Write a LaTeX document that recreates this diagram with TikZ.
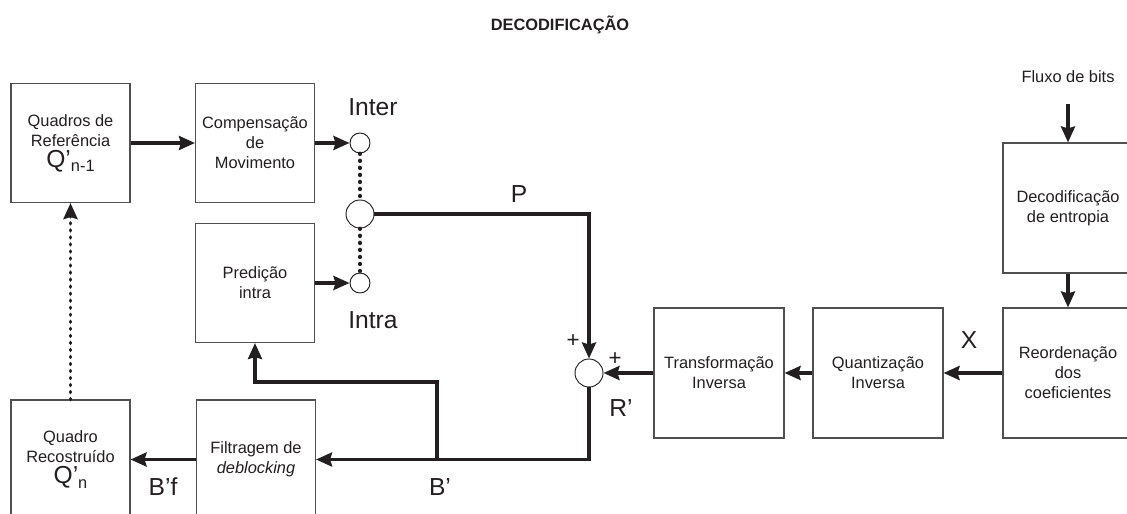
\documentclass[tikz,border=0pt]{standalone}
\usepackage{fontspec}
\setmainfont{Liberation Sans}
\usepackage{tikz}
\usetikzlibrary{arrows.meta, positioning, calc}
\definecolor{decink}{RGB}{35,31,32}
\definecolor{decframe}{RGB}{80,80,80}
\newcommand\boxfont{\fontsize{14}{17}\selectfont}
\newcommand\lblfont{\fontsize{21}{25}\selectfont}
\newcommand\titlefont{\fontsize{14}{17}\selectfont\bfseries}
\tikzset{
  %% ---- boxes ----
  block/.style  = {rectangle, draw=decframe, line width=0.9pt,
                   fill=white, minimum width=#1, minimum height=#1,
                   align=center, inner sep=0pt, text=decink, font=\boxfont},
  block/.default = 3.57cm,
  junc/.style   = {circle, draw=decink, line width=0.8pt, fill=white,
                   minimum size=#1, inner sep=0pt},
  junc/.default = 0.6cm,
  lbl/.style    = {font=\lblfont, text=decink, inner sep=0pt},
  %% ---- arrows ----
  arrow/.style   = {-{Stealth[length=4.8mm, width=4.2mm, inset=0.6mm]},
                    line width=2.9pt, color=decink},
  dotline/.style = {line width=3.2pt, dash pattern=on 0.6pt off 5.4pt,
                    line cap=round, color=decink},
  dotarrow/.style= {dotline, -{Stealth[length=4.8mm, width=4.2mm, inset=0.6mm]}},
}

\begin{document}
\begin{tikzpicture}[x=0.03cm, y=-0.03cm]

  \useasboundingbox (0,0) rectangle (1127,514);
  \clip (0,0) rectangle (1127,514);

  %% Title
  \node[font=\titlefont, text=decink] (title) at (560,25) {DECODIFICAÇÃO};

  %% Left column
  \node[block] (quadros) at (70.5,143)
    {Quadros de\\Referência\\[1pt]{\lblfont Q’}\raisebox{-4pt}{n-1}};
  \node[block] (recon) at (70.5,459.5)
    {Quadro\\Recostruído\\[1pt]{\lblfont Q’}\raisebox{-4pt}{n}};

  %% Prediction blocks
  \node[block] (comp) at (255,143) {Compensação\\de\\Movimento};
  \node[block] (pred) at (255,283) {Predição\\intra};
  \node[block] (filt) at (256,459.5) {Filtragem de\\\textit{deblocking}};

  %% Selector
  \node[junc] (inter) at (360,143) {};
  \node[junc=0.84cm] (sel) at (360,214) {};
  \node[junc] (intra) at (360,283) {};
  \node[lbl] (interlbl) at (373,107) {Inter};
  \node[lbl] (intralbl) at (373,320) {Intra};

  %% Sum
  \node[junc=0.84cm] (sum) at (589,373) {};
  \node[font=\fontsize{19}{20}\selectfont, text=decink] (plusa) at (573,341) {+};
  \node[font=\fontsize{19}{20}\selectfont, text=decink] (plusb) at (615,359) {+};

  %% Right chain
  \node[block=3.9cm] (transf) at (719,373) {Transformação\\Inversa};
  \node[block=3.9cm] (quant) at (878,373) {Quantização\\Inversa};
  \node[block=3.9cm] (reord) at (1068,373) {Reordenação\\dos\\coeficientes};
  \node[block=3.9cm] (entrop) at (1068,208) {Decodificação\\de entropia};
  \node[font=\boxfont, text=decink] (fluxo) at (1068,77) {Fluxo de bits};
  \coordinate (bitsin) at (1068,104);

  %% Signal labels
  \node[lbl] (plbl) at (519,194) {P};
  \node[lbl] (xlbl) at (969,340) {X};
  \node[lbl] (rlbl) at (621,408) {R’};
  \node[lbl] (blbl) at (440,487) {B’};
  \node[lbl] (bflbl) at (163,487) {B’f};

  %% Connectors
  \draw[arrow] (bitsin) -- (entrop);
  \draw[arrow] (entrop) -- (reord);
  \draw[arrow] (reord) -- (quant);
  \draw[arrow] (quant) -- (transf);
  \draw[arrow] (transf) -- (sum);
  \draw[arrow] (sel.east) -| (sum.north);

  \coordinate (tap) at (437,459.5);
  \coordinate (bend) at (437,382);
  \draw[arrow] (sum.south) |- (filt.east);
  \draw[arrow] (tap) -- (bend) -| (pred.south);
  \draw[arrow] (filt) -- (recon);
  \draw[dotarrow] (recon) -- (quadros);

  \draw[arrow] (quadros) -- (comp);
  \draw[arrow] (comp) -- (inter);
  \draw[arrow] (pred) -- (intra);
  \draw[dotline] (inter) -- (sel);
  \draw[dotline] (sel) -- (intra);

\end{tikzpicture}
\end{document}
